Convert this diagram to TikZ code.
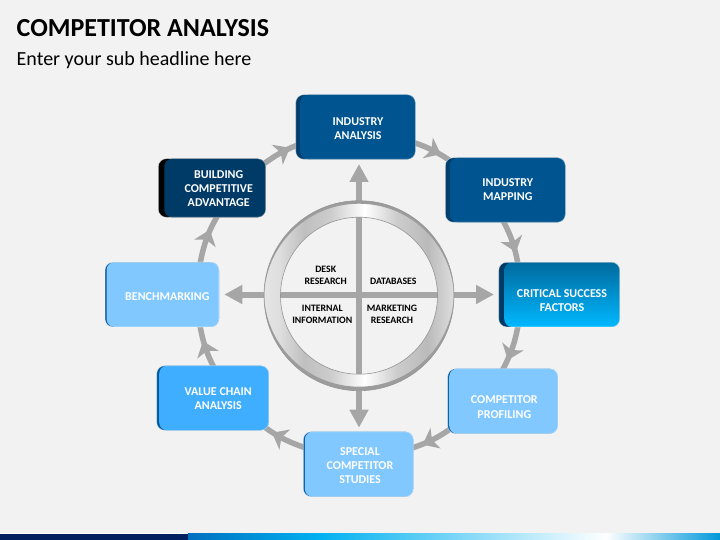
\documentclass[tikz,border=0pt]{standalone}
\usepackage{fontspec}
\setmainfont{Carlito}
\usetikzlibrary{calc,arrows.meta,decorations.markings}
\definecolor{bgc}{HTML}{F2F2F2}
\definecolor{conncol}{HTML}{A6A6A6}
\definecolor{navyf}{HTML}{00548F}
\definecolor{navys}{HTML}{003E6E}
\definecolor{deepf}{HTML}{003A66}
\definecolor{critt}{HTML}{006A9E}
\definecolor{critb}{HTML}{00B8FF}
\definecolor{palef}{HTML}{80C8FF}
\definecolor{midf}{HTML}{40AEFF}
\definecolor{edgeb}{HTML}{00559A}
\definecolor{barnavy}{HTML}{002060}
\definecolor{barblue}{HTML}{0070C0}
\definecolor{barsky}{HTML}{00B0F0}
\definecolor{barend}{HTML}{0098DA}
\definecolor{ringedge}{HTML}{969696}
\definecolor{ringcap}{HTML}{9C9C9C}
\pgfdeclarelayer{bglayer}
\pgfsetlayers{bglayer,main}
\pgfdeclarehorizontalshading{ringshade}{100bp}{
 rgb(0bp)=(.90,.90,.90); rgb(25bp)=(.90,.90,.90); rgb(29bp)=(.87,.87,.87);
 rgb(35.5bp)=(.75,.75,.75); rgb(42.5bp)=(.80,.80,.80); rgb(51.5bp)=(1,1,1);
 rgb(60bp)=(.80,.80,.80); rgb(68bp)=(.73,.73,.73); rgb(75bp)=(.87,.87,.87); rgb(100bp)=(.87,.87,.87)}
\newcommand\boxtext[3]{\hbox{\hspace*{#1}\vbox{\kern#2\hbox{\begin{tabular}{@{}c@{}}#3\end{tabular}}}}}
\tikzset{
 bx/.style n args={3}{draw=white,draw opacity=.55,line width=.6pt,fill=#1,rounded corners=8pt,inner sep=0pt,outer sep=0pt,
   text=white,font=\fontsize{12}{14.3}\selectfont\bfseries,
   path picture={\path[rounded corners=8pt,#3]
     ([xshift=#2]path picture bounding box.south west) rectangle
     ([xshift=12pt]path picture bounding box.north east);}},
 conn/.style={draw=conncol,line width=5.5pt,
   decoration={markings,mark=at position #1 with {\fill[conncol] (10.5pt,0pt)--(-4pt,11.5pt)--(0pt,0pt)--(-4pt,-11.5pt)--cycle;}},
   postaction={decorate}},
 spoke/.style={draw=conncol,line width=6pt,-{Triangle[length=18pt,width=18pt]}},
 lab/.style={inner sep=0pt,align=center,text=black,font=\fontsize{9.8}{12}\selectfont\bfseries},
}
\begin{document}
\begin{tikzpicture}[x=1pt,y=-1pt]
\useasboundingbox (0,0) rectangle (720,540);
\begin{pgfonlayer}{bglayer}
\fill[bgc] (0,0) rectangle (720,540);
\fill[white] (0,532.5) rectangle (720,534);
\fill[barnavy] (0,533.5) rectangle (188,540);
\shade[left color=barblue,right color=barsky] (188,533.5) rectangle (318,540);
\shade[left color=barsky,right color=white] (317.5,533.5) rectangle (606,540);
\shade[left color=white,right color=barend] (605.5,533.5) rectangle (720,540);
\end{pgfonlayer}

\node[anchor=base west,inner sep=0pt,text=black,font=\fontsize{26}{30}\selectfont\bfseries] (title) at (16.5,36.5) {COMPETITOR ANALYSIS};
\node[anchor=base west,inner sep=0pt,text=black,font=\fontsize{20}{24}\selectfont] (subtitle) at (16.5,66) {Enter your sub headline here};

% boxes
\node[bx={navys}{4.5pt}{fill=navyf},minimum width=119.6pt,minimum height=64.6pt] (industry) at (355.5,127) {\boxtext{5pt}{4.6pt}{INDUSTRY\\ANALYSIS}};
\node[bx={navys}{4.5pt}{fill=navyf},minimum width=120pt,minimum height=64.6pt] (mapping) at (505.3,190) {\boxtext{5pt}{1pt}{INDUSTRY\\MAPPING}};
\node[bx={deepf}{5.5pt}{top color=critt,bottom color=critb},minimum width=121pt,minimum height=64.7pt] (critical) at (559.2,294.6) {\boxtext{5.6pt}{14pt}{CRITICAL SUCCESS\\FACTORS}};
\node[bx={edgeb}{1.5pt}{fill=palef},minimum width=110pt,minimum height=65pt] (profiling) at (502.7,401.2) {\boxtext{3.2pt}{14pt}{COMPETITOR\\PROFILING}};
\node[bx={edgeb}{1.5pt}{fill=palef},minimum width=110pt,minimum height=65pt] (special) at (358.3,464.2) {\boxtext{3.4pt}{5pt}{SPECIAL\\COMPETITOR\\STUDIES}};
\node[bx={edgeb}{2.5pt}{fill=midf},minimum width=112pt,minimum height=64.6pt] (value) at (212.7,398) {\boxtext{11pt}{3pt}{VALUE CHAIN\\ANALYSIS}};
\node[bx={edgeb}{1.5pt}{fill=palef},minimum width=114pt,minimum height=64.7pt] (bench) at (162,294.6) {\boxtext{10.6pt}{6pt}{BENCHMARKING}};
\node[bx={black}{6pt}{fill=deepf},minimum width=107.4pt,minimum height=58.6pt] (building) at (212,188) {\boxtext{13.4pt}{3pt}{BUILDING\\COMPETITIVE\\ADVANTAGE}};

% ring connectors
\begin{pgfonlayer}{bglayer}
\draw[conn=0.48] ($(building)+(49.5,-22.4)$) to[bend left=8.5] ($(industry)+(-51.9,15.8)$);
\draw[conn=0.5] ($(industry)+(53.5,14)$) to[bend left=8.5] ($(mapping)+(-53.3,-28)$);
\draw[conn=0.55] ($(mapping)+(-6,24)$) to[bend left=10] ($(critical)+(-40.7,-27.7)$);
\draw[conn=0.55] ($(critical)+(-40.7,28.4)$) to[bend left=9] ($(profiling)+(-0.7,-30.2)$);
\draw[conn=0.54] ($(profiling)+(-46.2,23.2)$) to[bend left=9.5] ($(special)+(50.7,-15.2)$);
\draw[conn=0.44] ($(special)+(-49.3,-15.2)$) to[bend left=12] ($(value)+(37.9,17.4)$);
\draw[conn=0.49] ($(value)+(6,-22)$) to[bend left=10] ($(bench)+(37.5,28.4)$);
\draw[conn=0.45] ($(bench)+(37.5,-27.6)$) to[bend left=11] ($(building)+(9.6,21)$);
\end{pgfonlayer}

% spokes
\coordinate (hub) at (359,294.5);
\coordinate (tipn) at (359,164);
\coordinate (tipe) at (494,294.5);
\coordinate (tips) at (359,427.7);
\coordinate (tipw) at (224.3,294.5);
\draw[spoke] (hub) -- (tipn);
\draw[spoke] (hub) -- (tipe);
\draw[spoke] (hub) -- (tips);
\draw[spoke] (hub) -- (tipw);

% ring
\path[shading=ringshade,even odd rule] (359,295.7) circle[radius=95] (359,295.7) circle[radius=78.5];
\begin{scope}
\clip (359,295.7) circle[radius=95];
\fill[ringcap,even odd rule] (254,190) rectangle (464,400) (359,298.7) circle[radius=95];
\fill[ringcap,even odd rule] (254,190) rectangle (464,400) (359,291.7) circle[radius=95];
\end{scope}
\node[circle,draw=ringedge,line width=.6pt,minimum size=190pt,inner sep=0pt,outer sep=0pt] (ring) at (359,295.7) {};
\node[circle,draw=ringedge,line width=.6pt,minimum size=157pt,inner sep=0pt,outer sep=0pt] (ringin) at (359,295.7) {};

% labels
\node[lab] (desk) at (325.7,275) {DESK\\RESEARCH};
\node[lab] (databases) at (393.3,281.7) {DATABASES};
\node[lab] (internal) at (322.3,314.3) {INTERNAL\\INFORMATION};
\node[lab] (marketing) at (392,314.3) {MARKETING\\RESEARCH};
\end{tikzpicture}
\end{document}
